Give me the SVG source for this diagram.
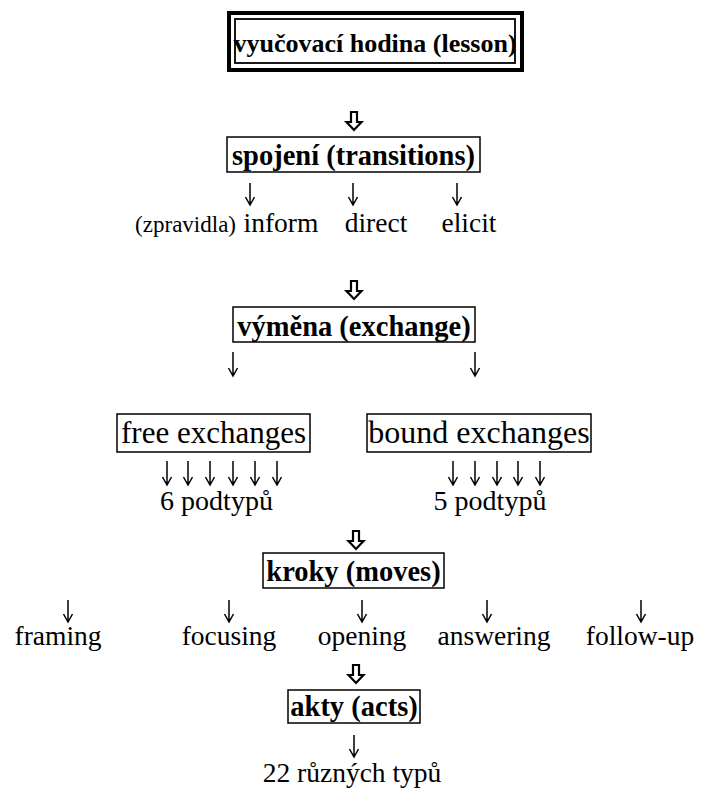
<svg xmlns="http://www.w3.org/2000/svg" width="701" height="792" viewBox="0 0 701 792" font-family="'Liberation Serif', 'DejaVu Serif', serif">
<style>
text{font-family:'Liberation Serif','DejaVu Serif',serif;fill:#000}
.b{font-weight:bold;font-size:28.5px;text-anchor:middle}
.r{font-size:27.5px;text-anchor:middle}
.box{fill:#fff;stroke:#000;stroke-width:1.5}
.hollow{fill:#fff;stroke:#000;stroke-width:2.2;stroke-linejoin:miter}
.thin{fill:none;stroke:#000;stroke-width:1.5}
</style>
<defs>
<g id="ha"><path class="hollow" d="M-3,0 h6 v10 h4.5 l-7.5,8 l-7.5,-8 h4.5 z"/></g>
<g id="sa"><path class="thin" d="M0,0 v22 M-4.5,14 L0,22 L4.5,14"/></g>
<g id="la"><path class="thin" d="M0,0 v24 M-4.5,16 L0,24 L4.5,16"/></g>
</defs>
<rect width="701" height="792" fill="#fff"/>

<g id="connectors">
<use href="#ha" x="354" y="112"/>
<use href="#sa" x="250" y="183"/>
<use href="#sa" x="353" y="183"/>
<use href="#sa" x="457" y="183"/>
<use href="#ha" x="354" y="281"/>
<use href="#la" x="233" y="352"/>
<use href="#la" x="475" y="352"/>
<use href="#la" x="167" y="461"/>
<use href="#la" x="188" y="461"/>
<use href="#la" x="210" y="461"/>
<use href="#la" x="233" y="461"/>
<use href="#la" x="255" y="461"/>
<use href="#la" x="277" y="461"/>
<use href="#la" x="453" y="461"/>
<use href="#la" x="475" y="461"/>
<use href="#la" x="497" y="461"/>
<use href="#la" x="518" y="461"/>
<use href="#la" x="540" y="461"/>
<use href="#ha" x="356" y="531"/>
<use href="#sa" x="68" y="600"/>
<use href="#sa" x="229" y="600"/>
<use href="#sa" x="362" y="600"/>
<use href="#sa" x="487" y="600"/>
<use href="#sa" x="641" y="600"/>
<use href="#ha" x="356" y="665"/>
<use href="#sa" x="354" y="735"/>
</g>

<g id="lesson">
<rect x="229" y="13" width="293" height="57" fill="#fff" stroke="#000" stroke-width="4"/>
<rect x="235" y="19" width="280" height="44" fill="none" stroke="#000" stroke-width="1.8"/>
<text x="375" y="52" class="b" style="font-size:26px">vyučovací hodina (lesson)</text>
</g>

<g id="transitions">
<rect class="box" x="227" y="137" width="253" height="35"/>
<text x="353.5" y="165" class="b">spojení (transitions)</text>
</g>

<g id="transition-types">
<text x="236" y="232" style="font-size:23px;text-anchor:end">(zpravidla)</text>
<text x="281" y="232" class="r">inform</text>
<text x="376" y="232" class="r">direct</text>
<text x="469" y="232" class="r">elicit</text>
</g>

<g id="exchange">
<rect class="box" x="233" y="307" width="242" height="35"/>
<text x="354" y="336" class="b">výměna (exchange)</text>
</g>

<g id="free-exchanges">
<rect class="box" x="117" y="414" width="193" height="38"/>
<text x="213.5" y="443" style="font-size:31px;text-anchor:middle">free exchanges</text>
</g>

<g id="bound-exchanges">
<rect class="box" x="367" y="414" width="224" height="38"/>
<text x="479" y="443" style="font-size:32px;text-anchor:middle">bound exchanges</text>
</g>

<g id="free-subtypes">
<text x="216.5" y="510" style="font-size:28px;text-anchor:middle">6 podtypů</text>
</g>

<g id="bound-subtypes">
<text x="490" y="510" style="font-size:28px;text-anchor:middle">5 podtypů</text>
</g>

<g id="moves">
<rect class="box" x="263" y="553" width="181" height="35"/>
<text x="353.5" y="581" class="b">kroky (moves)</text>
</g>

<g id="move-types">
<text x="58" y="645" class="r">framing</text>
<text x="229" y="645" class="r">focusing</text>
<text x="362" y="645" class="r">opening</text>
<text x="494" y="645" class="r">answering</text>
<text x="640" y="645" class="r">follow-up</text>
</g>

<g id="acts">
<rect class="box" x="288" y="690" width="132" height="33"/>
<text x="354" y="716" class="b">akty (acts)</text>
</g>

<g id="act-types">
<text x="352" y="782" class="r">22 různých typů</text>
</g>
</svg>
